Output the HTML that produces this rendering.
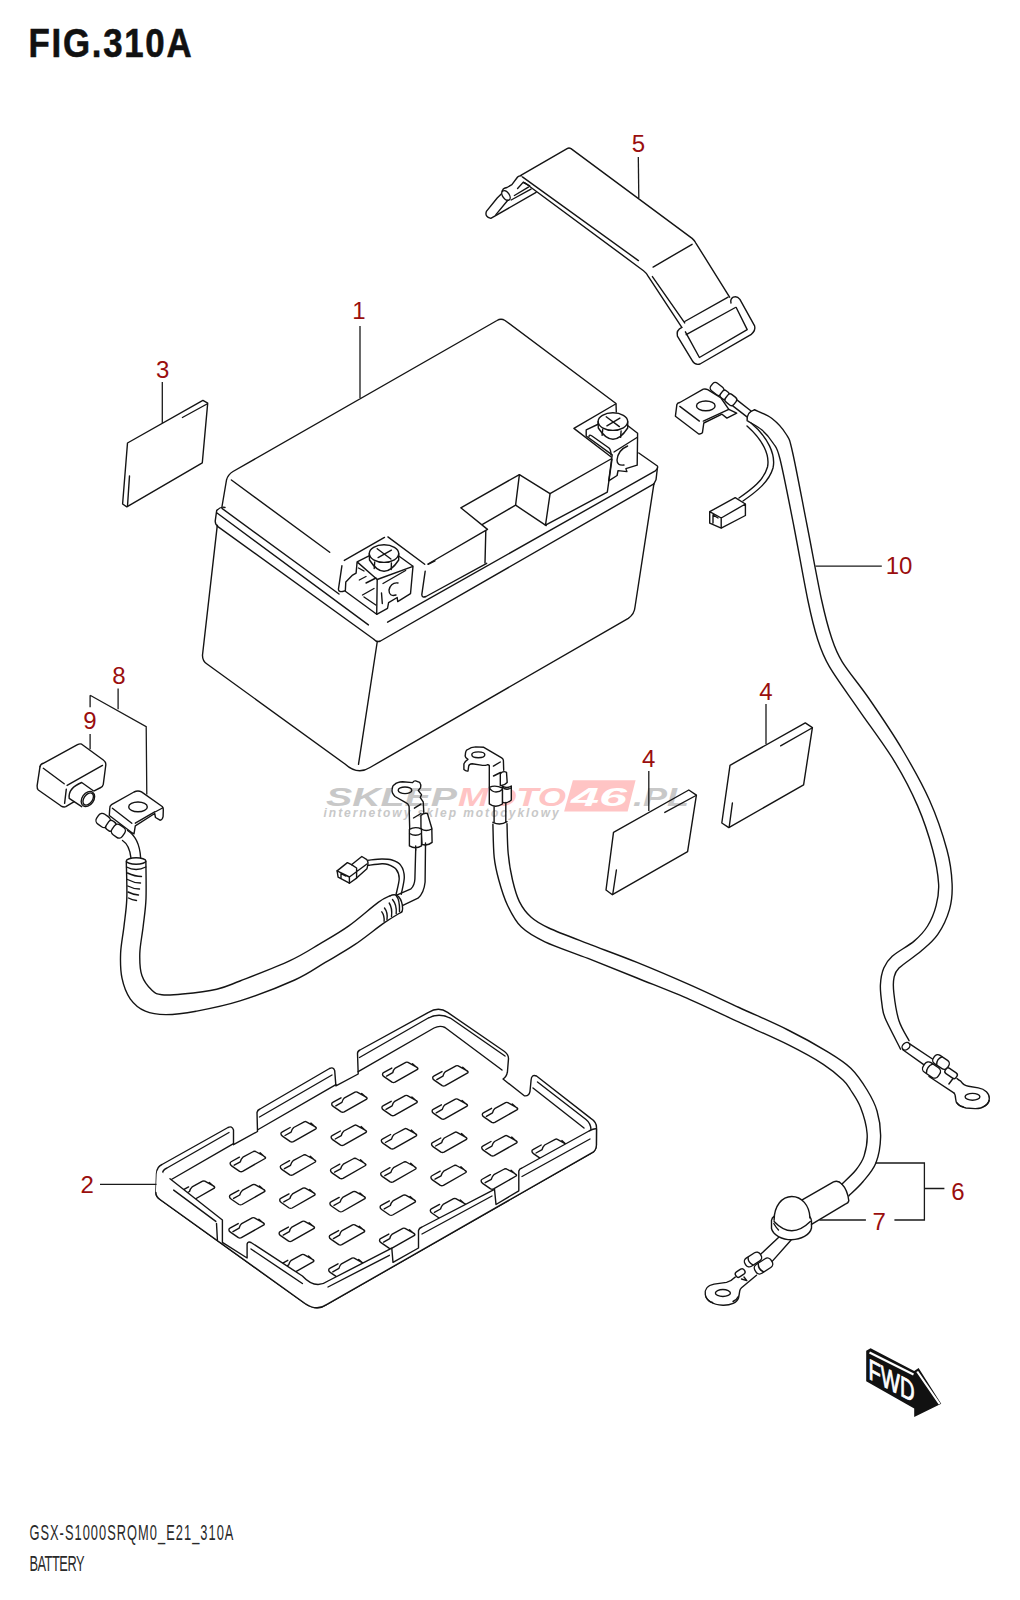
<!DOCTYPE html>
<html><head><meta charset="utf-8">
<style>
html,body{margin:0;padding:0;background:#fff;}
body{width:1020px;height:1600px;overflow:hidden;position:relative;font-family:"Liberation Sans",sans-serif;}
svg{position:absolute;left:0;top:0;}
</style></head>
<body>
<svg width="1020" height="1600" viewBox="0 0 1020 1600">
<g id="wm" font-family="Liberation Sans, sans-serif" font-weight="bold" font-style="italic">
<text x="326" y="805.6" font-size="25" fill="#c8c8c8" textLength="131" lengthAdjust="spacingAndGlyphs">SKLEP</text>
<text x="458" y="805.6" font-size="25" fill="#ffc4c4" textLength="108" lengthAdjust="spacingAndGlyphs">MOTO</text>
<path d="M572.9,780.2 L635.6,780.2 L627.6,811.5 L564.1,811.5 Z" fill="#ffc4c4"/>
<text x="571" y="805.6" font-size="25" fill="#fff" textLength="56" lengthAdjust="spacingAndGlyphs">46</text>
<text x="633" y="805.6" font-size="25" fill="#c8c8c8" textLength="56" lengthAdjust="spacingAndGlyphs">.PL</text>
<text x="323.6" y="817.4" font-size="12" fill="#c8c8c8" textLength="235" lengthAdjust="spacing">internetowy sklep motocyklowy</text>
</g>
<g id="texts" font-family="Liberation Sans, sans-serif">
<text x="0" y="0" font-weight="bold" font-size="40.5" fill="#111" stroke="#111" stroke-width="0.6" transform="translate(28.6,56.6) scale(0.86,1)" textLength="189.5" lengthAdjust="spacing">FIG.310A</text>
<text x="0" y="0" font-size="21.4" fill="#2a2a2a" transform="translate(29.4,1540.1) scale(0.6,1)" textLength="340" lengthAdjust="spacing">GSX-S1000SRQM0_E21_310A</text>
<text x="0" y="0" font-size="21.4" fill="#2a2a2a" transform="translate(29.4,1570.7) scale(0.6,1)" textLength="92" lengthAdjust="spacing">BATTERY</text>
</g>

<g id="draw" fill="none" stroke="#141414" stroke-width="1.4" stroke-linecap="round" stroke-linejoin="round">
<g id="battery">
<!-- lid top face -->
<path d="M222,506.5 L226.5,480 Q228,474.5 233,471.5 L497,320.5 Q501,318 505,320.5 L616,403.5 L616.3,412"/>
<path d="M615.6,404 L573.9,428.4 L611.2,457"/>
<path d="M611,459 L550,493.7 L519.4,474.6 L460.8,507.8 L487.5,529.4 L428,564"/>
<path d="M485.8,531 L485,563"/>
<path d="M519.4,474.6 L515.6,505.2 L482.5,524.3"/>
<path d="M515.6,505.2 L546.2,525.6"/>
<path d="M550,494.2 L545.5,525.1 L607.3,492.2 L612,459.2"/>
<!-- lid front-left edge -->
<path d="M231.4,480 L329.7,552.3"/>
<!-- left terminal recess -->
<path d="M344.3,560.4 L384.5,537.4 M387.9,536.9 L424.7,564.3 M428.1,564.3 L435,560.9"/>
<path d="M341.9,565.8 L338.4,589.3 Q338.5,593 344.8,590.8"/>
<path d="M425.2,571.2 L421.8,594.7 Q422,598 426,596.5 L486.7,563.3"/>
<!-- rims left -->
<path d="M222,508.4 L339,594"/>
<path d="M216.7,510.4 Q221,506 225,507.5 M216.7,510.4 L215.2,521.2 Q215.5,525 217.5,525.5"/>
<path d="M216.7,512.8 L368.4,624.9"/>
<path d="M217.2,526.1 L373.5,639 Q376.5,642.5 380.5,641 L653.9,483.9"/>
<path d="M387.6,622.2 L655.3,470.9 Q658.5,468.5 657.4,466 L638.8,453"/>
<path d="M657.4,468 L656,479.8 L653.9,483.9"/>
<!-- body -->
<path d="M217.2,526.1 L202.5,655 Q202.3,661 207,664 L345,764 Q357.5,775.5 370,767.5 L628.3,618.3 Q634.5,614 635,607 L653.9,483.9"/>
<path d="M377.2,642 L358.5,764.3"/>

<!-- left terminal block -->
<ellipse cx="384" cy="553.6" rx="14.7" ry="8.8"/>
<path d="M369.3,553.6 L369.5,560 Q384,582.6 398.7,560 L398.7,553.6"/>
<path d="M374.7,562 L374.2,568.5 M391.4,563 L391.2,569.5"/>
<path d="M377.2,548.7 L390.9,559 M378.1,557.6 L391.4,550.2"/>
<path d="M357.1,561.9 L369.5,555.6 M398.8,556 L413,566.3 L410.5,593.7 L397.7,601.6 L397.2,597.5 L388.6,602.7 L387.5,608.4 L376.7,614.3 L345.3,591.3 L345.8,582 L352.6,575.1 L356.1,573.1 L357.1,561.9 L377.2,579.5 L413,566.3"/>
<path d="M377.2,579.5 L376.7,614.3"/>
<path d="M398,583 Q391,582 389,590 Q389,597 396,595"/>
<path d="M358.5,568 L364,571 M359.3,580 L366,576.5 M366,583 L376,578 M362.5,595 L374,588.5 M364,597 L375.8,605"/>
<path d="M383,583.5 L405.6,570.5 M381.5,593 L382.3,603.5"/>
<!-- right terminal block -->
<ellipse cx="612.9" cy="421.6" rx="14.8" ry="8.8"/>
<path d="M598.1,421.6 L598.3,428 Q613,450.5 627.7,428 L627.7,421.6"/>
<path d="M602.7,429.5 L602.1,435.4 M621.1,431 L620.6,437.4"/>
<path d="M606.2,416.8 L619.4,426.6 M606.9,425.8 L619.9,418.2"/>
<path d="M586.2,429.9 L598.6,424 M627.6,425.5 L637.6,433.3 L637.2,465.2 L625.9,468.6 L626.9,471.6 L618,470.6 L617.1,475.5 L608.7,480.9 L612.2,454.9 L586.2,436 L586.2,429.9"/>
<path d="M627.6,446 Q618,450 617,460 Q617,466 624,465"/>
<path d="M589,436.5 Q589,434 592,436 L609,448 Q611,450 611,455"/>
<path d="M614,452 L637,437.5"/>
</g>
<g id="strap">
<path d="M520.8,175.3 L567.1,148.6 Q569,147.5 571,148.6 L692.1,238.4 Q694.5,240.5 695.7,242.8 L729.6,297.2"/>
<path d="M522.4,176.9 L638.4,260.6"/>
<path d="M523.5,182.5 Q525,183 527,184.5 L643.5,270.7 Q646.5,273 647.9,275.9 L681.8,327.4"/>
<path d="M652.4,276.6 L684.7,322.9"/>
<path d="M653.1,267.1 L692.1,244.3"/>
<path d="M684.7,321.5 L728.1,297.2"/>
<path d="M686.2,334.7 L735.4,307.5"/>
<path d="M681.8,327.4 Q676,330 677.4,336.2 L692.1,360.4 Q695,365.5 700,364 L750.9,334.7 Q756,330.5 754.6,325.9 L739.9,299.4 Q737,295.5 733.2,297.2 Q730,299 731,303"/>
<path d="M685.4,331.8 L699.4,357.5 L747.2,329.6 L736.2,307.5"/>
<path d="M521.4,175.7 Q519,175.5 517.6,177 L511.9,184.7 L507,187.5 Q503,188.5 502.9,189.8 Q501.5,191.5 502.3,192.9 L497.2,198 L486.4,211.4 Q484.5,217 490.8,218.4 L536.1,192.3"/>
<ellipse cx="506" cy="195.5" rx="3.3" ry="5.5" transform="rotate(-35 506 195.5)" fill="#fff"/>
<path d="M495.9,214.6 L508,200 M514.4,195.5 L528.4,187.2 M511.2,200 L531,189.1 M517.6,188.5 L523.3,182.1 L529.7,185.9"/>
</g>
<g id="cable10">
<g transform="translate(714.5,387) rotate(38)">
<rect x="-3.5" y="-4.8" width="13.5" height="9.6" rx="3.5" fill="#fff"/>
<rect x="9" y="-4.3" width="7.5" height="8.6" rx="2.5" fill="#fff"/>
<rect x="15.5" y="-4.8" width="10.5" height="9.6" rx="3" fill="#fff"/>
<path d="M26,-3.6 L44,-3.6 M26,3.6 L44,3.6 M45.5,-6.6 Q40.5,0 46.5,6.5"/>
</g>
<path fill="#fff" d="M675.4,416.2 L676.9,404.4 Q677.5,402.8 679.8,402.5 L703.3,389.2 Q705.5,388.5 707.7,389.7 L721,398 L728.8,409.3 L736.7,413.2 L726.9,418.1 L722,414.2 L703.8,423 L702.4,432.8 Q700.5,434.5 698.4,433.8 Z"/>
<path d="M679.8,406.4 L699.4,421.1 M703.3,421.1 L728.8,409.3"/>
<ellipse cx="705.8" cy="405.9" rx="9.3" ry="4.9"/>
<path d="M754.3,409.7 C757.2,411.2 766.7,414.4 772.0,418.5 C777.3,422.6 782.6,428.4 786.0,434.0 C789.4,439.6 789.0,436.8 792.5,452.0 C796.0,467.2 802.1,500.3 807.0,525.0 C811.9,549.7 817.5,581.3 821.6,600.0 C825.7,618.7 828.0,627.0 831.4,637.3 C834.8,647.6 836.0,651.7 842.2,661.8 C848.4,671.9 858.6,683.5 868.6,698.0 C878.6,712.5 891.9,732.0 902.0,749.0 C912.1,766.0 921.9,783.2 929.4,800.0 C936.9,816.8 943.2,836.0 947.0,850.0 C950.8,864.0 951.7,873.9 952.1,883.8 C952.5,893.6 952.0,900.7 949.6,909.1 C947.2,917.5 942.6,927.4 937.8,934.4 C933.0,941.4 927.4,945.7 920.9,951.3 C914.4,956.9 903.5,963.6 899.0,968.1 C894.5,972.6 894.8,974.1 893.9,978.3 C893.0,982.5 893.1,986.5 893.9,993.5 C894.7,1000.5 896.4,1012.6 898.9,1020.5 C901.4,1028.4 907.4,1037.3 909.1,1040.7"/>
<path d="M748.0,421.2 C750.3,422.7 757.8,426.4 762.0,430.0 C766.2,433.6 770.0,438.2 773.0,443.0 C776.0,447.8 776.5,445.0 780.0,459.0 C783.5,473.0 789.4,503.5 794.0,527.0 C798.6,550.5 803.9,581.3 807.8,600.0 C811.7,618.7 814.0,628.1 817.6,639.2 C821.2,650.3 822.5,654.9 829.4,666.7 C836.3,678.5 848.0,694.1 858.8,709.8 C869.6,725.5 884.3,744.8 894.1,760.8 C903.9,776.8 911.2,791.0 917.6,805.9 C924.0,820.8 929.2,837.0 932.7,850.0 C936.2,863.0 938.0,874.5 938.6,883.8 C939.2,893.1 937.9,898.7 936.1,905.7 C934.3,912.7 931.3,920.1 927.6,926.0 C923.9,931.9 920.0,936.1 914.1,941.1 C908.2,946.1 897.2,951.8 892.2,956.3 C887.2,960.8 885.8,963.3 883.8,968.1 C881.8,972.9 880.7,978.8 880.4,985.0 C880.1,991.2 881.3,999.7 882.1,1005.3 C882.9,1010.9 882.3,1011.5 885.4,1018.8 C888.5,1026.1 898.1,1044.1 900.6,1049.2"/>
<path d="M751,423 C768,437 776,455 773,468 C769,482 756,492 743,501"/>
<path d="M747,426 C763,440 770,455 767.5,467 C764,480 752,489 739,498"/>
<path d="M709.7,511.7 L735.2,497.6 L745.4,504 L745.4,515.5 L721.2,528.2 L709.7,523.1 Z M709.7,511.7 L721.2,518 L745.4,504 M721.2,518 L721.2,528.2 M713,515 L713,523 M713,515 L718,518"/>
<ellipse cx="906" cy="1046.2" rx="4.3" ry="3.3" transform="rotate(-40 906 1046.2)"/>
<path d="M909.7,1043.8 L933.2,1059.5 M902.8,1049.7 L923.4,1064.4"/>
<g transform="translate(941,1062) rotate(34)"><rect x="-8.5" y="-5" width="17" height="10" rx="4" fill="#fff"/><path d="M-2,-4.8 Q-5.5,0 -2,4.8"/></g>
<g transform="translate(931.5,1070) rotate(34)"><rect x="-9" y="-5.8" width="18" height="11.6" rx="4.5" fill="#fff"/><path d="M-2.5,-5.3 Q-6,0 -2.5,5.3"/></g>
<g transform="translate(951.5,1073.5) rotate(34)"><rect x="-7" y="-3.2" width="13" height="6.4" rx="2.5" fill="#fff"/></g>
<path d="M929,1076.5 L953.8,1092.8 M948.9,1084 L953,1078.5"/>
<path d="M957,1078.5 Q958.5,1080 960.7,1081.1 Q963.5,1085.5 968.5,1086.2 L978.3,1087.9 C985,1089 989.6,1093.5 989.3,1098.5 C989,1104.5 983,1108.8 975,1108.6 L966,1108 C959,1107 955.5,1103 955.6,1098.5 Q955.3,1094 953.8,1092.8"/>
<path d="M956.5,1102.5 Q959,1106 963.5,1107 M984,1106.5 Q988.5,1104 989.2,1100.5"/>
<ellipse cx="972.5" cy="1096.8" rx="7.4" ry="3.4"/>
</g>
<g id="harness8">
<path d="M40,766.7 Q40.5,764 43.3,763.3 L77.5,744.6 Q80,743.3 81.7,744.2 L103.3,760 Q106,762 105.8,765 L103.3,784.2 Q102.5,787 100.8,787.5 L94.2,790.8"/>
<path d="M40,766.7 L37.1,785.8 Q37,789 38.3,790 L60.8,805.8 Q63.5,807.5 65.8,806.7 L74.2,801.7"/>
<path d="M43.3,768.3 L64.2,783.8 M67.1,785.4 L102.5,765.4 M66.3,789.2 L64.6,803.3"/>
<path d="M69.2,798.3 Q68,788 81.7,782.5 L93.3,790.8 M69.2,798.3 L81.7,806.7"/>
<ellipse cx="87.9" cy="799" rx="5.8" ry="8.3" transform="rotate(35 87.9 799)"/>
<ellipse cx="88.2" cy="799" rx="4.3" ry="6.8" transform="rotate(35 88.2 799)"/>
<g transform="translate(98.5,817.2) rotate(35)">
<rect x="-1" y="-6" width="13.5" height="12" rx="4.5" fill="#fff"/>
<rect x="11" y="-5.2" width="8" height="10.4" rx="3" fill="#fff"/>
<rect x="18" y="-6" width="12.5" height="12" rx="4" fill="#fff"/>
</g>
<path d="M122.5,840.5 Q129.5,845 130.9,857.7 M127.5,830.5 Q139.5,838 140.6,857.7"/>
<path fill="#fff" d="M109.7,809.1 Q109.5,806 111.5,804.7 L134,792 Q138,790 141.5,791.9 L162.2,806.5 Q163.5,808 163.3,810 L163.1,816.5 Q162.5,820 160,820.2 L155.5,817.5 L154.7,813.5 L135.3,825.9 L134,833.8 L132.3,833 L109.3,815.5 Z"/>
<path d="M112.4,808.2 L131.8,823.2 M135.3,823.2 L154.7,811.8 M155,812 L162.5,808"/>
<ellipse cx="138" cy="806.9" rx="9.3" ry="4.9"/>

<path d="M126.3,861.5 C126.4,867.7 127.2,887.8 126.8,898.6 C126.4,909.4 125.0,917.0 124.0,926.1 C123.0,935.2 120.9,944.8 120.6,953.5 C120.3,962.2 120.4,970.7 122.0,978.2 C123.6,985.8 126.3,993.3 130.2,998.8 C134.1,1004.3 139.4,1008.6 145.3,1011.2 C151.2,1013.8 157.4,1014.6 165.9,1014.6 C174.4,1014.6 183.8,1013.5 196.1,1011.2 C208.4,1008.9 223.6,1006.1 240.0,1000.9 C256.4,995.7 280.5,986.4 294.7,980.0 C308.9,973.6 315.3,968.3 325.3,962.4 C335.3,956.5 344.9,951.3 354.7,944.7 C364.5,938.1 376.2,928.4 384.1,922.9 C392.0,917.4 398.9,913.6 401.8,911.8"/>
<path d="M145.9,861.5 C145.9,867.7 146.4,887.8 146.0,898.6 C145.6,909.4 144.2,917.0 143.2,926.1 C142.2,935.2 140.0,945.3 139.8,953.5 C139.6,961.7 139.8,969.3 141.9,975.5 C144.0,981.7 148.9,987.4 152.2,990.6 C155.5,993.8 156.8,994.1 161.8,994.7 C166.8,995.3 173.2,994.9 182.4,994.0 C191.6,993.1 207.1,991.4 216.7,989.2 C226.3,987.0 227.8,985.8 240.0,981.0 C252.2,976.2 276.8,966.8 290.0,960.6 C303.2,954.5 309.6,949.9 319.4,944.1 C329.2,938.3 339.0,932.9 348.8,925.9 C358.6,918.9 371.3,907.4 378.2,902.4 C385.1,897.4 388.0,897.0 390.0,895.9"/>

<ellipse cx="136.1" cy="861" rx="9.8" ry="3.2"/>
<path d="M126.5,867 Q136,872 145.8,867"/>
<path d="M127.5,873 Q135,876.5 141.5,876.5 M127.5,879.5 Q134,883 140.5,883 M127.8,886 Q133.5,889 139.5,889 M128,892 Q133,894.5 138.5,895 M128.5,898 Q132,900 136.5,900.5"/>
<path d="M390,895.9 Q395,893.5 398.5,896.5 Q402.5,901 402.6,908.5 Q402.5,911 401.8,911.8"/>
<path d="M396.1,895.5 Q400,900 399.5,911.5"/>
<path d="M381.8,911.8 Q384.5,915.5 384.1,921.2 M384.5,908 Q388,912.5 387,919.5 M389.2,903 Q392.5,908 391.5,916.5 M392.5,899.5 Q397,905 396.2,913.5"/>
<path d="M396.1,895.3 L411,888.8 Q414.5,885.5 414.9,879 L415.7,849.6"/>
<path d="M402.9,905.3 L418,898.2 Q424,893 425.1,882 L425.5,844.9"/>
<path d="M401.2,894.3 C401.7,891.4 404.4,881.9 404.3,877.1 C404.2,872.3 402.9,868.1 400.8,865.3 C398.8,862.4 395.1,861.0 392.0,860.0 C388.9,859.0 385.9,859.0 382.0,859.0 C378.1,859.0 370.8,860.0 368.6,860.2"/>
<path d="M396.1,894.3 C396.6,891.7 399.2,882.8 399.2,878.6 C399.2,874.4 398.0,871.6 396.1,869.2 C394.2,866.9 390.4,865.4 388.0,864.5 C385.6,863.6 385.2,863.6 382.0,863.7 C378.8,863.8 370.8,865.0 368.6,865.3"/>

<path d="M337.1,870.9 L347.4,862.6 L351.5,864.7 L361.8,856.5 L366.9,859.6 Q368.5,862 367.9,864.7 L366.9,868.8 L356.6,878.1 L349.4,883.2 L338.1,877.1 Z"/>
<path d="M337.1,870.9 L349.4,877 L366.9,864 M349.4,877 L349.4,883.2 M351.5,864.7 L356.6,868 L356.6,878.1 M341,873.5 L341,878 M341,873.5 L346,876"/>
<path d="M409.7,828.8 L409.1,806.5 Q408,803.5 406.2,802.9 L395,796.5 Q391.5,793 392.1,789.4 Q392.5,785.5 394.4,784.7 Q397,782 402.6,781.8 L412.6,782.6 Q414,780.5 415.6,780.9 L419.7,782.4 Q421.5,785 420.6,787.6 L418.3,790.5 L421.5,794.7 L420.3,797.6 L423.2,801.8 L423.8,812.4"/>
<ellipse cx="405" cy="790.3" rx="6.8" ry="3.3"/>
<path d="M414.4,808.2 L420.9,804.1 M413.5,818 L421,813.5"/>
<path fill="#fff" d="M420.9,815.5 Q424,812.5 427.4,813.5 L431.8,828.2 L432.1,842.4 Q428,846 422,844.5 L421,830 Z"/>
<path fill="#fff" d="M409.4,829.4 Q415,826 421.5,829 L421.5,845.9 Q415.5,849.5 409.4,845.9 Z"/>
<path d="M409.6,833.5 Q415.5,837 421.3,833.5 M421.3,829 Q426,832 431.8,829"/>
<path d="M415.7,846 L415.7,850 M425.5,843 L425.5,846"/>
</g>
<g id="cable6">
<path d="M489.3,787 L489.3,765.5 Q488.5,764.5 487.3,764.8 Q484,765.8 481.1,765.1 L472.2,763.7 Q469,764 468.7,766.1 L468,771 Q466,771.5 463.9,769.6 L463.9,764.1 Q465,761 468,759.3 Q464.5,757.5 465.3,755.2 Q465.5,750.5 467.4,749.7 Q471,747 475.6,746.9 L483.8,747.3 L501.7,757.9 Q503.5,759 503.4,760.6 L503.7,770.3"/>
<ellipse cx="478.3" cy="754.8" rx="6.5" ry="2.9"/>
<path d="M493.4,766.1 L500.3,762 M493.5,776 L500.5,772.5"/>
<path fill="#fff" d="M500.3,773.7 Q503,770.5 506.5,772.3 L507.2,782.6 Q504,786 500.3,785.4 Z"/>
<path fill="#fff" d="M502.4,786 Q507,789 511.3,786 L511.3,800 Q506,804.5 502.4,802 Z"/>
<path fill="#fff" d="M489.3,787.4 Q495,784.5 502.4,788 L502.4,804 Q495.5,808.5 489.3,803.9 Z"/>
<path d="M489.5,788 Q492,792 496,792 Q500,792 502.2,789.5 M502.6,787 Q506,791 511,788"/>
<path d="M494.1,806.6 L494.1,822 M505.8,802.5 L505.8,822"/>
<path d="M492.9,822.3 Q500,826 507,821.7"/>
<path d="M507.0,823.6 C507.2,828.6 507.3,844.1 508.2,853.5 C509.1,862.9 510.6,872.0 512.5,880.0 C514.4,888.0 516.3,895.4 519.4,901.6 C522.5,907.8 526.3,912.9 531.2,917.3 C536.1,921.7 539.3,923.6 548.8,928.0 C558.3,932.4 573.3,938.0 588.0,943.7 C602.7,949.4 620.0,955.5 637.0,962.4 C654.0,969.3 673.0,977.4 690.0,984.9 C707.0,992.4 722.7,1000.0 739.0,1007.5 C755.3,1015.0 773.3,1022.6 788.0,1030.0 C802.7,1037.3 816.8,1045.2 827.3,1051.6 C837.8,1058.0 844.2,1061.8 850.8,1068.2 C857.4,1074.6 862.7,1082.8 867.1,1090.0 C871.5,1097.2 874.9,1103.4 877.1,1111.2 C879.4,1119.0 880.8,1128.5 880.6,1137.1 C880.4,1145.7 878.9,1155.5 875.9,1163.0 C872.9,1170.5 867.4,1176.3 862.9,1181.8 C858.4,1187.3 851.1,1193.6 848.8,1195.9"/>
<path d="M492.9,824.2 C493.1,829.7 493.2,848.1 494.2,857.4 C495.2,866.7 496.6,872.0 498.8,880.0 C501.0,888.0 503.8,897.6 507.6,905.5 C511.4,913.4 515.2,921.1 521.4,927.1 C527.6,933.1 533.8,936.6 544.9,941.8 C556.0,947.0 572.6,952.4 588.0,958.4 C603.4,964.4 620.0,971.1 637.0,978.0 C654.0,984.9 673.0,992.2 690.0,999.6 C707.0,1007.0 722.7,1014.7 739.0,1022.2 C755.3,1029.7 774.0,1037.7 788.0,1044.7 C802.0,1051.7 814.1,1058.4 823.3,1064.3 C832.5,1070.2 838.5,1075.7 843.0,1080.0 C847.5,1084.3 847.7,1085.4 850.6,1090.0 C853.5,1094.6 857.9,1100.3 860.6,1107.6 C863.4,1114.8 866.5,1125.5 867.1,1133.5 C867.7,1141.5 866.0,1149.8 864.1,1155.9 C862.2,1162.0 859.6,1165.3 855.9,1170.0 C852.2,1174.7 844.1,1181.8 841.8,1184.1"/>
<path d="M802.6,1199.7 L833.5,1181.8 Q838.5,1180 841.8,1184.1 Q847.5,1190 848.8,1200.6 Q848.5,1203 845.3,1204.1 L811.5,1224.4"/>
<path d="M774.1,1220.3 C774,1206 782,1196.5 791.8,1196.5 C801.5,1196.5 809.5,1205 810,1218"/>
<path d="M774.1,1221.5 Q791.5,1240 810.3,1221.5"/>
<path d="M771.5,1220.3 L771.5,1228.5 C773,1235 782,1239.7 791.5,1239.7 C801,1239.7 810,1235 811.5,1228 L811.5,1220.9 M771.5,1220.3 Q772,1217.5 774,1216.5 M811.5,1220.9 Q811,1218 810,1217 M773.8,1223.5 Q776,1227.5 778.5,1230"/>
<path d="M778.5,1237.4 L760.9,1254.1 M790.9,1240.3 L771.5,1262.1"/>
<g transform="translate(753,1259.5) rotate(-33)"><rect x="-9" y="-4.8" width="18" height="9.6" rx="4" fill="#fff"/><path d="M-3,-4.5 Q-6,0 -3,4.5"/></g>
<g transform="translate(763.5,1266) rotate(-33)"><rect x="-9.5" y="-5.2" width="19" height="10.4" rx="4.2" fill="#fff"/><path d="M-3,-5 Q-6.5,0 -3,5"/></g>
<g transform="translate(741,1272.5) rotate(-33)"><rect x="-6" y="-3" width="10" height="6" rx="2.5" fill="#fff"/></g>
<path d="M735.3,1277.1 Q731,1281.5 726.5,1282.4 L714.1,1284.1 C707,1285.5 704.5,1290 705.3,1294.5 C706,1300 712,1304.8 722.9,1305.3 C731,1305.5 737,1302.5 738.5,1298 Q739.5,1293 739.7,1291.2 Q740,1289 741.5,1287.7 L756.5,1275.3"/>
<path d="M706,1297 Q708,1301.5 712.5,1302.5 M733,1301.5 Q737,1299.5 738.3,1296.5"/>
<ellipse cx="722.9" cy="1293" rx="7.5" ry="3.5"/>
<path d="M744,1277 L746.8,1280.6 L741.5,1279"/>
</g>
<g id="tray">
<defs><path id="slot" d="M0,0 Q0,1.5 1.5,2.5 L9.5,8 Q11,8.8 12.5,8 L35,-4.8 Q36,-5.8 34.5,-6.8 L25.5,-11.8 Q24.4,-12.3 23.3,-11.8 L12.8,-6.1 Q11,-4.5 10.2,-1.5 L4.1,1.9 M9.3,-6.1 L1.5,-1.8 Q0,-1 0,0 M30.0,-10.5 L35.2,-5.9"/></defs>
<path fill="#fff" d="M155.9,1192.4 L156.5,1173.5 Q157,1166.5 162,1164.5 L228,1127.5 Q232,1125.5 233.5,1130 L233.5,1144.7 L257.5,1131.5 L257,1112.5 Q257.5,1110 260,1109 L329.5,1068.5 Q333.5,1066.5 334.7,1070.6 L335.9,1085.9 L358.2,1074 L357.5,1053.5 Q357.5,1051 360,1050 L428.5,1012.4 Q438.6,1006 447.6,1012.4 L504.5,1051.5 Q508.5,1054.5 508.5,1058.6 L507.4,1072.2 Q506.5,1077 503,1079 L524.3,1095.8 Q529,1096.5 530,1091.3 L531.1,1080 Q531.5,1074 536.5,1076 L590.8,1118.4 Q596.5,1122 596.5,1127.4 L596.4,1145.2 Q596,1151 591.8,1152.8 L326.5,1304.7 Q316.7,1311.5 305,1303.5 L160,1199.5 Q155.9,1196.5 155.9,1192.4 Z"/>
<path d="M162.4,1175 Q162,1170 167,1168 L229,1132.5 M259.5,1117 L332,1075 M359.5,1057.5 L427.4,1018.5 Q439,1012 451,1018.5 L505,1056 M537.5,1082 L586,1119.5 Q591,1123.5 591,1130"/>
<path d="M170.5,1180 L233.5,1143.7 M258.2,1129.5 L335.9,1084.6 M358.2,1071.7 L434,1028 Q439.8,1025 445,1027.5 L502,1070 M533,1088 L584,1128"/>
<use href="#slot" x="382.5" y="1074.2"/>
<use href="#slot" x="432.7" y="1077.7"/>
<use href="#slot" x="331.7" y="1103.9"/>
<use href="#slot" x="381.9" y="1107.4"/>
<use href="#slot" x="432.1" y="1110.9"/>
<use href="#slot" x="482.3" y="1114.4"/>
<use href="#slot" x="280.9" y="1133.6"/>
<use href="#slot" x="331.1" y="1137.1"/>
<use href="#slot" x="381.3" y="1140.6"/>
<use href="#slot" x="431.5" y="1144.1"/>
<use href="#slot" x="481.7" y="1147.6"/>
<use href="#slot" x="531.9" y="1151.1"/>
<use href="#slot" x="230.1" y="1163.3"/>
<use href="#slot" x="280.3" y="1166.8"/>
<use href="#slot" x="330.5" y="1170.3"/>
<use href="#slot" x="380.7" y="1173.8"/>
<use href="#slot" x="430.9" y="1177.3"/>
<use href="#slot" x="481.1" y="1180.8"/>
<use href="#slot" x="179.3" y="1193.0"/>
<use href="#slot" x="229.5" y="1196.5"/>
<use href="#slot" x="279.7" y="1200.0"/>
<use href="#slot" x="329.9" y="1203.5"/>
<use href="#slot" x="380.1" y="1207.0"/>
<use href="#slot" x="430.3" y="1210.5"/>
<use href="#slot" x="228.9" y="1229.7"/>
<use href="#slot" x="279.1" y="1233.2"/>
<use href="#slot" x="329.3" y="1236.7"/>
<use href="#slot" x="379.5" y="1240.2"/>
<use href="#slot" x="278.5" y="1266.4"/>
<use href="#slot" x="328.7" y="1269.9"/>
<path fill="#fff" stroke="none" d="M157,1172 Q158,1169 160,1170.5 L170,1178.8 L222.4,1220 L222.4,1242.4 L247.1,1258 L247.1,1244 Q248,1241 251,1242.5 L302.4,1276 Q315.3,1290 328,1281 L391.8,1248.2 L393,1262.4 L418.5,1248 L418.5,1230.5 Q419,1228 422,1227 L494.5,1189.3 L496,1204.5 L518.8,1190.8 L518.8,1171 Q519.5,1168.5 522,1168 L589,1131 Q595,1128 596.5,1129 L596.4,1145.2 Q596,1151 591.8,1152.8 L326.5,1304.7 Q316.7,1311.5 305,1303.5 L160,1199.5 Q155.9,1196.5 155.9,1192.4 L156.5,1177 Q156.5,1173.5 157,1172 Z"/>
<path d="M170,1178.8 L222.4,1220 L222.4,1242.4 L247.1,1258 L247.1,1244 Q248,1241 251,1242.5 L302.4,1276 Q315.3,1290 328,1281 L391.8,1248.2 L393,1262.4 L418.5,1248 L418.5,1230.5 Q419,1228 422,1227 L494.5,1189.3 L496,1204.5 L518.8,1190.8 L518.8,1171 Q519.5,1168.5 522,1168 L589,1131 Q595,1128 596.5,1129 L596.4,1145.2 Q596,1151 591.8,1152.8 L326.5,1304.7 Q316.7,1311.5 305,1303.5 L160,1199.5 Q155.9,1196.5 155.9,1192.4"/>
<path d="M216.5,1223.5 L217.4,1239.7 M251,1249 L302.4,1283.5 M328,1287 L389.4,1255.3 M422,1234 L492,1196 M522,1176.5 L590,1139 M173.7,1190.1 L215.8,1221.4"/>
</g>
<g id="fwd">
<path fill="#111" stroke="none" d="M866.2,1350.8 L870.6,1348.3 L914.2,1370.9 L918.6,1367.9 L941.2,1403.7 L914.2,1417 L914.2,1408.6 L866.2,1381.2 Z"/>
<path stroke="#fff" stroke-width="2.2" stroke-linecap="butt" d="M869.5,1352.5 L913.5,1374.5 M917.2,1371.5 L939.6,1404"/>
<text x="0" y="0" fill="#fff" stroke="#fff" stroke-width="0.9" font-family="Liberation Sans, sans-serif" font-size="29" transform="matrix(1,0.53,0,1,868.5,1378.5)" textLength="46" lengthAdjust="spacingAndGlyphs">FWD</text>
</g>

<g id="st3">
<path d="M127.5,443 L202.9,400.4 L207.7,403.1 L202.3,462.8 L126.8,506.8 L122.6,504 Z"/>
<path d="M182.4,417.5 L207,404"/>
<path d="M129.5,475.9 L127.5,506"/>
</g>
<g id="st4a">
<path d="M613.5,832.4 L688.8,790 L696.4,795.2 L687.6,851.6 L612.4,894.7 L606,890 Z"/>
<path d="M664.8,812.4 L696,795.5"/>
<path d="M616.4,870 L612.8,894"/>
</g>
<g id="st4b">
<path d="M730,765.3 L805.3,722.9 L812.4,727.6 L803.6,784.8 L728.8,827.6 L721.8,823 Z"/>
<path d="M780.6,745.8 L812,728"/>
<path d="M732.4,803 L729.2,827"/>
</g>
</g>
<g id="labels" fill="#9a0e0e" font-family="Liberation Sans, sans-serif" font-size="24" text-anchor="middle">
<text x="359" y="318.8">1</text>
<text x="162.7" y="377.6">3</text>
<text x="638.5" y="151.5">5</text>
<text x="648.8" y="766.6">4</text>
<text x="766" y="700.0">4</text>
<text x="899" y="573.6">10</text>
<text x="119" y="683.6">8</text>
<text x="90" y="728.9">9</text>
<text x="958" y="1200.2">6</text>
<text x="879.2" y="1229.6">7</text>
<text x="87.3" y="1192.6">2</text>
</g>
<g id="leaders" stroke="#1a1a1a" stroke-width="1.3" fill="none">
<path d="M360,326 V398"/>
<path d="M162.3,382 V423"/>
<path d="M638.3,157 L638.8,198"/>
<path d="M648.8,771 V811"/>
<path d="M766,704 V744"/>
<path d="M815.5,566.2 H881.8"/>
<path d="M118.1,688.4 V709.3"/>
<path d="M90.1,695.3 V707.2 M90.1,695.3 L146.2,726.6 L146.8,794.5"/>
<path d="M90.1,734.1 V749.2"/>
<path d="M875.3,1163 H924.4 V1220 H894.4 M924.4,1188.5 H944.4"/>
<path d="M819.4,1220 H865.9"/>
<path d="M100,1184.4 H156.5"/>
</g>
</svg>
</body></html>
